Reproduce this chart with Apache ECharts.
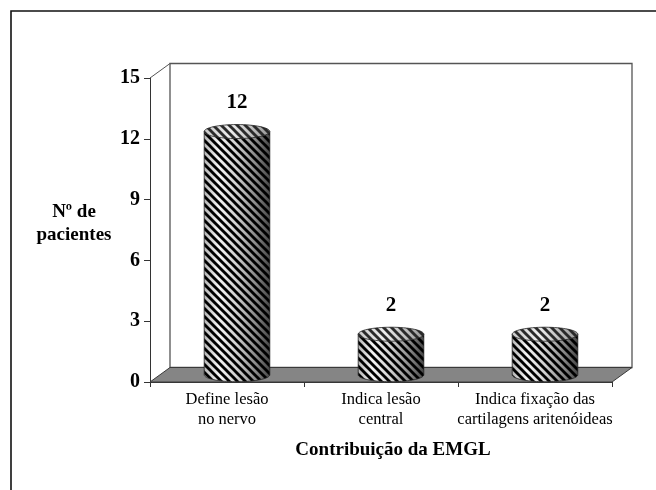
<!DOCTYPE html>
<html>
<head>
<meta charset="utf-8">
<script src="https://cdn.jsdelivr.net/npm/echarts@6/dist/echarts.min.js"></script>
<style>
html,body{margin:0;padding:0;background:#fff;}
#chart{width:656px;height:490px;}
</style>
</head>
<body>
<div id="chart"></div>
<script>
// ---- data ----
const categories = ['Define lesão\nno nervo', 'Indica lesão\ncentral', 'Indica fixação das\ncartilagens aritenóideas'];
const values = [12, 2, 2];
const yMin = 0, yMax = 15, yInterval = 3;
const xTitle = 'Contribuição da EMGL';
const yTitleLines = ['Nº de', 'pacientes'];

// ---- style constants ----
const DX = 20, DY = -14.5;          // 3D depth offset
const SERIF = '"Liberation Serif","Times New Roman",serif';

function stripeCanvas(color, bg) {
  const s = 8;
  const c = document.createElement('canvas');
  c.width = s; c.height = s;
  const ctx = c.getContext('2d');
  if (bg) { ctx.fillStyle = bg; ctx.fillRect(0, 0, s, s); }
  ctx.strokeStyle = color;
  ctx.lineWidth = 2.9;
  for (let k = -1; k <= 1; k++) {
    ctx.beginPath();
    ctx.moveTo(k * s - 2, -2);
    ctx.lineTo(k * s + s + 2, s + 2);
    ctx.stroke();
  }
  return c;
}
const bodyStripes = { image: stripeCanvas('#000'), repeat: 'repeat' };
const topStripes = { image: stripeCanvas('#2a2a2a'), repeat: 'repeat' };

function ellipsePts(cx, cy, rx, ry, a0, a1, n) {
  const pts = [];
  for (let i = 0; i <= n; i++) {
    const a = a0 + (a1 - a0) * i / n;
    pts.push([cx + rx * Math.cos(a), cy + ry * Math.sin(a)]);
  }
  return pts;
}

const chart = echarts.init(document.getElementById('chart'));

const option = {
  animation: false,
  backgroundColor: '#fff',
  grid: { left: 150, right: 44, top: 78, bottom: 108 },
  xAxis: {
    type: 'category',
    data: categories,
    axisLine: { show: true, lineStyle: { color: '#333', width: 1 } },
    axisTick: { show: true, length: 5, lineStyle: { color: '#333' } },
    axisLabel: {
      interval: 0, margin: 8, color: '#000',
      fontFamily: SERIF, fontSize: 16.5, lineHeight: 20
    },
    splitLine: { show: false }
  },
  yAxis: {
    type: 'value',
    min: yMin, max: yMax, interval: yInterval,
    axisLine: { show: true, lineStyle: { color: '#333', width: 1 } },
    axisTick: { show: true, length: 6, lineStyle: { color: '#333' } },
    axisLabel: {
      margin: 10, color: '#000', fontFamily: SERIF,
      fontSize: 20, fontWeight: 'bold'
    },
    splitLine: { show: false }
  },
  graphic: [
    {
      type: 'rect', z: 100, silent: true,
      shape: { x: 11, y: 11, width: 700, height: 560 },
      style: { fill: 'none', stroke: '#111', lineWidth: 1.6 }
    },
    {
      type: 'text', z: 100,
      x: 74, y: 224,
      style: {
        text: yTitleLines.join('\n'), x: 0, y: 0,
        textAlign: 'center', textVerticalAlign: 'middle',
        font: 'bold 19px ' + SERIF, fill: '#000', lineHeight: 23
      }
    },
    {
      type: 'text', z: 100,
      x: 393, y: 450,
      style: {
        text: xTitle, x: 0, y: 0,
        textAlign: 'center', textVerticalAlign: 'middle',
        font: 'bold 19px ' + SERIF, fill: '#000'
      }
    }
  ],
  series: [
    {
      type: 'custom',
      name: 'walls',
      silent: true,
      z: 1,
      data: [[0, 0]],
      renderItem: function (params, api) {
        const cs = params.coordSys;
        const x = cs.x, y = cs.y, w = cs.width, h = cs.height;
        return {
          type: 'group',
          children: [
            { // back wall
              type: 'polygon',
              shape: { points: [[x + DX, y + DY], [x + w + DX, y + DY], [x + w + DX, y + h + DY], [x + DX, y + h + DY]] },
              style: { fill: '#fff', stroke: '#555', lineWidth: 1.3 }
            },
            { // left top diagonal
              type: 'line',
              shape: { x1: x, y1: y, x2: x + DX, y2: y + DY },
              style: { stroke: '#555', lineWidth: 1 }
            },
            { // floor
              type: 'polygon',
              shape: { points: [[x, y + h], [x + w, y + h], [x + w + DX, y + h + DY], [x + DX, y + h + DY]] },
              style: { fill: '#858585', stroke: '#3a3a3a', lineWidth: 1 }
            }
          ]
        };
      }
    },
    {
      type: 'custom',
      name: 'Nº de pacientes',
      z: 2,
      data: values.map((v, i) => [i, v]),
      renderItem: function (params, api) {
        const idx = api.value(0), val = api.value(1);
        const base = api.coord([idx, 0]);
        const topP = api.coord([idx, val]);
        const cx = base[0] + DX / 2;
        const yBot = base[1] + DY / 2;
        const yTop = topP[1] + DY / 2;
        const rx = api.size([1, 0])[0] * 0.213;
        const ry = 7;
        const body = [[cx - rx, yTop]]
          .concat(ellipsePts(cx, yBot, rx, ry, Math.PI, 0, 48))
          .concat([[cx + rx, yTop]]);
        const topE = ellipsePts(cx, yTop, rx, ry, 0, Math.PI * 2, 64);
        const bodyGrad = {
          type: 'linear', x: 0, y: 0, x2: 1, y2: 0,
          colorStops: [
            { offset: 0, color: '#b5b5b5' },
            { offset: 0.22, color: '#f4f4f4' },
            { offset: 0.5, color: '#cfcfcf' },
            { offset: 0.8, color: '#858585' },
            { offset: 1, color: '#454545' }
          ]
        };
        const topGrad = {
          type: 'linear', x: 0, y: 0, x2: 1, y2: 0,
          colorStops: [
            { offset: 0, color: '#c8c8c8' },
            { offset: 0.4, color: '#eeeeee' },
            { offset: 1, color: '#969696' }
          ]
        };
        return {
          type: 'group',
          children: [
            { type: 'polygon', shape: { points: body }, style: { fill: bodyGrad, stroke: 'none' } },
            { type: 'polygon', shape: { points: body }, style: { fill: bodyStripes, stroke: '#222', lineWidth: 0.8 } },
            { type: 'polygon', shape: { points: topE }, style: { fill: topGrad, stroke: 'none' } },
            { type: 'polygon', shape: { points: topE }, style: { fill: topStripes, stroke: '#222', lineWidth: 0.8 } },
            {
              type: 'text',
              style: {
                text: String(val), x: cx, y: yTop - ry - 22,
                textAlign: 'center', textVerticalAlign: 'middle',
                font: 'bold 21px ' + SERIF, fill: '#000'
              }
            }
          ]
        };
      }
    }
  ]
};
chart.setOption(option);
</script>
</body>
</html>
